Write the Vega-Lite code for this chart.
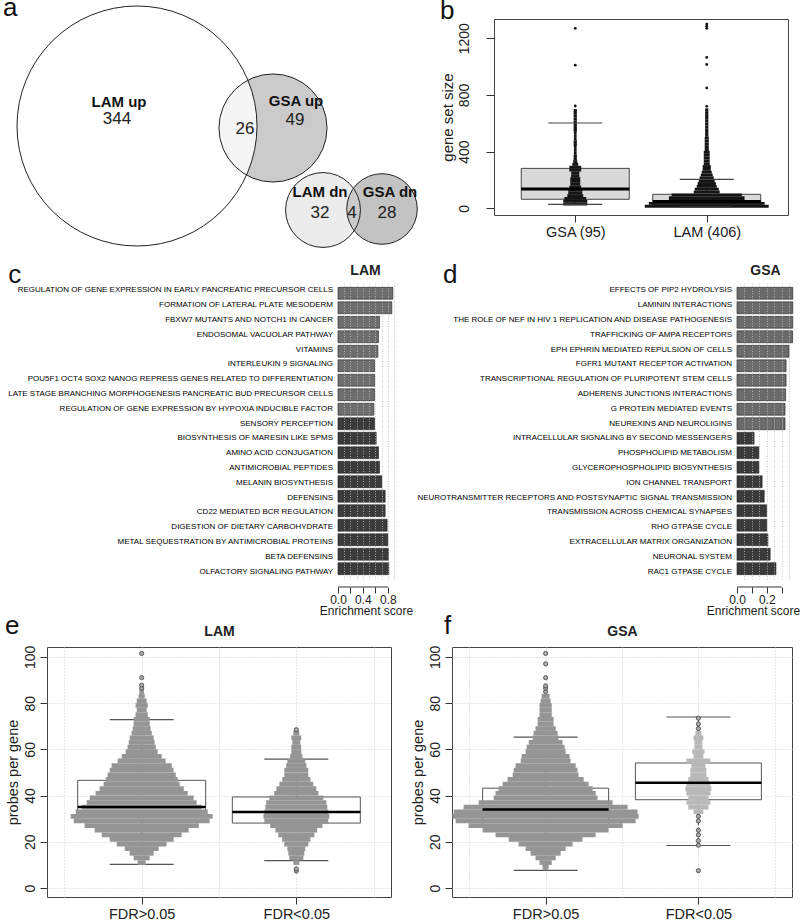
{
"$schema":"https://vega.github.io/schema/vega-lite/v6.json",
"padding":{"left":3,"top":-5,"right":0,"bottom":0},
"background":"white",
"config":{"font":"Liberation Sans","view":{"stroke":null},
 "axis":{"labelColor":"#222","titleColor":"#222","tickColor":"#333","domainColor":"#333","titleFontWeight":"normal"},
 "title":{"color":"#111","fontWeight":"normal"}},
"resolve":{"scale":{"size":"independent","color":"independent","opacity":"independent"}},
"datasets":{
"venn":[{"set":"GSA up","n":75,"cx":273,"cy":128},{"set":"LAM up","n":370,"cx":137,"cy":126},{"set":"GSA dn","n":32,"cx":382,"cy":209},{"set":"LAM dn","n":36,"cx":323,"cy":210}],
"venn_names":[{"t":"LAM up","x":119,"y":102},{"t":"GSA up","x":296,"y":101},{"t":"LAM dn","x":320,"y":192},{"t":"GSA dn","x":390,"y":192}],
"venn_counts":[{"t":"344","x":117,"y":119},{"t":"49","x":295,"y":120},{"t":"26","x":245,"y":129},{"t":"32","x":320,"y":213},{"t":"4","x":352,"y":213},{"t":"28","x":387,"y":213}],
"b_box":[{"g":1,"lo":28,"q1":64,"med":136,"q3":282,"hi":602},{"g":2,"lo":8,"q1":26,"med":48,"q3":99,"hi":205}],
"b_swarm":[
{"g":1,"ym":30,"n":8.9},{"g":1,"ym":50,"n":8.9},{"g":1,"ym":70,"n":8.1},{"g":1,"ym":90,"n":5.9},{"g":1,"ym":110,"n":5.2},{"g":1,"ym":130,"n":5.2},{"g":1,"ym":150,"n":4.4},{"g":1,"ym":170,"n":3.7},{"g":1,"ym":190,"n":3.7},{"g":1,"ym":210,"n":3.7},{"g":1,"ym":230,"n":3},{"g":1,"ym":250,"n":3},{"g":1,"ym":270,"n":4.4},{"g":1,"ym":290,"n":4.4},{"g":1,"ym":310,"n":2.2},{"g":1,"ym":330,"n":1.5},{"g":1,"ym":350,"n":1.2},{"g":1,"ym":370,"n":1.2},{"g":1,"ym":390,"n":1},{"g":1,"ym":410,"n":1},{"g":1,"ym":430,"n":1},{"g":1,"ym":450,"n":1.2},{"g":1,"ym":470,"n":1.2},{"g":1,"ym":490,"n":1},{"g":1,"ym":510,"n":1},{"g":1,"ym":530,"n":1},{"g":1,"ym":550,"n":1.2},{"g":1,"ym":570,"n":1.2},{"g":1,"ym":590,"n":1.2},{"g":1,"ym":610,"n":1.2},{"g":1,"ym":630,"n":1.2},{"g":1,"ym":650,"n":1.2},{"g":1,"ym":670,"n":1.2},{"g":1,"ym":690,"n":1.2},
{"g":2,"ym":15,"n":45.9},{"g":2,"ym":35,"n":42.9},{"g":2,"ym":55,"n":28},{"g":2,"ym":75,"n":28},{"g":2,"ym":95,"n":26},{"g":2,"ym":115,"n":9.6},{"g":2,"ym":135,"n":8.9},{"g":2,"ym":155,"n":7.4},{"g":2,"ym":175,"n":6.7},{"g":2,"ym":195,"n":5.9},{"g":2,"ym":215,"n":5.2},{"g":2,"ym":235,"n":4.4},{"g":2,"ym":255,"n":3.7},{"g":2,"ym":275,"n":3},{"g":2,"ym":295,"n":3},{"g":2,"ym":315,"n":2.2},{"g":2,"ym":335,"n":2.2},{"g":2,"ym":355,"n":2.2},{"g":2,"ym":375,"n":2.2},{"g":2,"ym":395,"n":2.2},{"g":2,"ym":415,"n":1.5},{"g":2,"ym":435,"n":1.5},{"g":2,"ym":455,"n":1.5},{"g":2,"ym":475,"n":1.5},{"g":2,"ym":495,"n":1.5},{"g":2,"ym":515,"n":1.2},{"g":2,"ym":535,"n":1.2},{"g":2,"ym":555,"n":1.2},{"g":2,"ym":575,"n":1.2},{"g":2,"ym":595,"n":1.2},{"g":2,"ym":615,"n":1.2},{"g":2,"ym":635,"n":1.2},{"g":2,"ym":655,"n":1.2},{"g":2,"ym":675,"n":1.2},{"g":2,"ym":695,"n":1.2}],
"b_pts":[{"g":1,"v":722},{"g":1,"v":1010},{"g":1,"v":1270},{"g":2,"v":720},{"g":2,"v":850},{"g":2,"v":1015},{"g":2,"v":1065},{"g":2,"v":1270},{"g":2,"v":1285},{"g":2,"v":1300}],
"c_bars":[
{"term":"REGULATION OF GENE EXPRESSION IN EARLY PANCREATIC PRECURSOR CELLS","es":0.88,"dir":"down"},
{"term":"FORMATION OF LATERAL PLATE MESODERM","es":0.864,"dir":"down"},
{"term":"FBXW7 MUTANTS AND NOTCH1 IN CANCER","es":0.667,"dir":"down"},
{"term":"ENDOSOMAL VACUOLAR PATHWAY","es":0.65,"dir":"down"},
{"term":"VITAMINS","es":0.64,"dir":"down"},
{"term":"INTERLEUKIN 9 SIGNALING","es":0.587,"dir":"down"},
{"term":"POU5F1 OCT4 SOX2 NANOG REPRESS GENES RELATED TO DIFFERENTIATION","es":0.587,"dir":"down"},
{"term":"LATE STAGE BRANCHING MORPHOGENESIS PANCREATIC BUD PRECURSOR CELLS","es":0.587,"dir":"down"},
{"term":"REGULATION OF GENE EXPRESSION BY HYPOXIA INDUCIBLE FACTOR","es":0.576,"dir":"down"},
{"term":"SENSORY PERCEPTION","es":0.587,"dir":"up"},
{"term":"BIOSYNTHESIS OF MARESIN LIKE SPMS","es":0.613,"dir":"up"},
{"term":"AMINO ACID CONJUGATION","es":0.65,"dir":"up"},
{"term":"ANTIMICROBIAL PEPTIDES","es":0.667,"dir":"up"},
{"term":"MELANIN BIOSYNTHESIS","es":0.704,"dir":"up"},
{"term":"DEFENSINS","es":0.757,"dir":"up"},
{"term":"CD22 MEDIATED BCR REGULATION","es":0.757,"dir":"up"},
{"term":"DIGESTION OF DIETARY CARBOHYDRATE","es":0.789,"dir":"up"},
{"term":"METAL SEQUESTRATION BY ANTIMICROBIAL PROTEINS","es":0.8,"dir":"up"},
{"term":"BETA DEFENSINS","es":0.81,"dir":"up"},
{"term":"OLFACTORY SIGNALING PATHWAY","es":0.816,"dir":"up"}],
"d_bars":[
{"term":"EFFECTS OF PIP2 HYDROLYSIS","es":0.375,"dir":"down"},
{"term":"LAMININ INTERACTIONS","es":0.375,"dir":"down"},
{"term":"THE ROLE OF NEF IN HIV 1 REPLICATION AND DISEASE PATHOGENESIS","es":0.375,"dir":"down"},
{"term":"TRAFFICKING OF AMPA RECEPTORS","es":0.374,"dir":"down"},
{"term":"EPH EPHRIN MEDIATED REPULSION OF CELLS","es":0.35,"dir":"down"},
{"term":"FGFR1 MUTANT RECEPTOR ACTIVATION","es":0.33,"dir":"down"},
{"term":"TRANSCRIPTIONAL REGULATION OF PLURIPOTENT STEM CELLS","es":0.33,"dir":"down"},
{"term":"ADHERENS JUNCTIONS INTERACTIONS","es":0.327,"dir":"down"},
{"term":"G PROTEIN MEDIATED EVENTS","es":0.323,"dir":"down"},
{"term":"NEUREXINS AND NEUROLIGINS","es":0.323,"dir":"down"},
{"term":"INTRACELLULAR SIGNALING BY SECOND MESSENGERS","es":0.115,"dir":"up"},
{"term":"PHOSPHOLIPID METABOLISM","es":0.147,"dir":"up"},
{"term":"GLYCEROPHOSPHOLIPID BIOSYNTHESIS","es":0.147,"dir":"up"},
{"term":"ION CHANNEL TRANSPORT","es":0.169,"dir":"up"},
{"term":"NEUROTRANSMITTER RECEPTORS AND POSTSYNAPTIC SIGNAL TRANSMISSION","es":0.183,"dir":"up"},
{"term":"TRANSMISSION ACROSS CHEMICAL SYNAPSES","es":0.199,"dir":"up"},
{"term":"RHO GTPASE CYCLE","es":0.2,"dir":"up"},
{"term":"EXTRACELLULAR MATRIX ORGANIZATION","es":0.208,"dir":"up"},
{"term":"NEURONAL SYSTEM","es":0.223,"dir":"up"},
{"term":"RAC1 GTPASE CYCLE","es":0.262,"dir":"up"}],
"e_box":[{"g":1,"lo":10.2,"q1":29.3,"med":35.1,"q3":46.6,"hi":72.9},{"g":2,"lo":11.8,"q1":28.1,"med":32.9,"q3":39.4,"hi":55.8}],
"e_swarm":[
{"g":1,"ym":11,"n":1.7},{"g":1,"ym":13,"n":3.4},{"g":1,"ym":15,"n":5.1},{"g":1,"ym":17,"n":7.2},{"g":1,"ym":19,"n":10.6},{"g":1,"ym":21,"n":13.6},{"g":1,"ym":23,"n":17},{"g":1,"ym":25,"n":20},{"g":1,"ym":27,"n":24.3},{"g":1,"ym":29,"n":28.9},{"g":1,"ym":31,"n":30.2},{"g":1,"ym":33,"n":28.1},{"g":1,"ym":35,"n":25.5},{"g":1,"ym":37,"n":23.4},{"g":1,"ym":39,"n":22.1},{"g":1,"ym":41,"n":19.6},{"g":1,"ym":43,"n":17.9},{"g":1,"ym":45,"n":16.2},{"g":1,"ym":47,"n":15.3},{"g":1,"ym":49,"n":14.5},{"g":1,"ym":51,"n":13.6},{"g":1,"ym":53,"n":12.8},{"g":1,"ym":55,"n":10.2},{"g":1,"ym":57,"n":8.5},{"g":1,"ym":59,"n":6.8},{"g":1,"ym":61,"n":6},{"g":1,"ym":63,"n":5.5},{"g":1,"ym":65,"n":5.1},{"g":1,"ym":67,"n":4.3},{"g":1,"ym":69,"n":3.8},{"g":1,"ym":71,"n":3.4},{"g":1,"ym":73,"n":3.4},{"g":1,"ym":75,"n":2.6},{"g":1,"ym":77,"n":2.1},{"g":1,"ym":79,"n":2.6},{"g":1,"ym":81,"n":2.1},{"g":1,"ym":83,"n":1.3},{"g":1,"ym":85,"n":1},
{"g":2,"ym":11,"n":1.3},{"g":2,"ym":13,"n":3},{"g":2,"ym":15,"n":3.4},{"g":2,"ym":17,"n":3.8},{"g":2,"ym":19,"n":5.1},{"g":2,"ym":21,"n":6},{"g":2,"ym":23,"n":7.7},{"g":2,"ym":25,"n":8.9},{"g":2,"ym":27,"n":11.1},{"g":2,"ym":29,"n":13.6},{"g":2,"ym":31,"n":14},{"g":2,"ym":33,"n":13.6},{"g":2,"ym":35,"n":13.2},{"g":2,"ym":37,"n":12.8},{"g":2,"ym":39,"n":11.5},{"g":2,"ym":41,"n":9.4},{"g":2,"ym":43,"n":8.5},{"g":2,"ym":45,"n":7.2},{"g":2,"ym":47,"n":6},{"g":2,"ym":49,"n":5.1},{"g":2,"ym":51,"n":5.1},{"g":2,"ym":53,"n":4.3},{"g":2,"ym":55,"n":3.8},{"g":2,"ym":57,"n":2.6},{"g":2,"ym":59,"n":2.1},{"g":2,"ym":61,"n":2.1},{"g":2,"ym":63,"n":1.7},{"g":2,"ym":65,"n":2.1},{"g":2,"ym":67,"n":1.3}],
"e_pts":[{"g":1,"v":86.5},{"g":1,"v":87.8},{"g":1,"v":91},{"g":1,"v":101.5},{"g":2,"v":7.3},{"g":2,"v":8.3},{"g":2,"v":68.5}],
"f_box":[{"g":1,"lo":7.6,"q1":27.5,"med":34,"q3":43.2,"hi":65.3},{"g":2,"lo":18.4,"q1":38.2,"med":45.5,"q3":54.1,"hi":74}],
"f_swarm":[
{"g":1,"ym":9,"n":1.3},{"g":1,"ym":11,"n":2.6},{"g":1,"ym":13,"n":4.3},{"g":1,"ym":15,"n":6.4},{"g":1,"ym":17,"n":8.5},{"g":1,"ym":19,"n":11.5},{"g":1,"ym":21,"n":15.7},{"g":1,"ym":23,"n":21.3},{"g":1,"ym":25,"n":26.8},{"g":1,"ym":27,"n":32.8},{"g":1,"ym":29,"n":38.3},{"g":1,"ym":31,"n":39.6},{"g":1,"ym":33,"n":39.1},{"g":1,"ym":35,"n":34.9},{"g":1,"ym":37,"n":28.5},{"g":1,"ym":39,"n":22.1},{"g":1,"ym":41,"n":21.3},{"g":1,"ym":43,"n":20},{"g":1,"ym":45,"n":18.3},{"g":1,"ym":47,"n":16.2},{"g":1,"ym":49,"n":14},{"g":1,"ym":51,"n":13.6},{"g":1,"ym":53,"n":12.8},{"g":1,"ym":55,"n":10.6},{"g":1,"ym":57,"n":10.2},{"g":1,"ym":59,"n":8.5},{"g":1,"ym":61,"n":8.1},{"g":1,"ym":63,"n":7.2},{"g":1,"ym":65,"n":5.5},{"g":1,"ym":67,"n":5.1},{"g":1,"ym":69,"n":4.3},{"g":1,"ym":71,"n":3.4},{"g":1,"ym":73,"n":3.4},{"g":1,"ym":75,"n":2.6},{"g":1,"ym":77,"n":2.6},{"g":1,"ym":79,"n":2.6},{"g":1,"ym":81,"n":2.1},{"g":1,"ym":83,"n":1.7},
{"g":2,"ym":33,"n":2.1},{"g":2,"ym":35,"n":4.3},{"g":2,"ym":37,"n":5.1},{"g":2,"ym":39,"n":4.3},{"g":2,"ym":41,"n":5.1},{"g":2,"ym":43,"n":5.5},{"g":2,"ym":45,"n":5.1},{"g":2,"ym":47,"n":4.3},{"g":2,"ym":49,"n":3.4},{"g":2,"ym":51,"n":3.4},{"g":2,"ym":53,"n":3},{"g":2,"ym":55,"n":5.1},{"g":2,"ym":57,"n":2.1},{"g":2,"ym":59,"n":2.6},{"g":2,"ym":61,"n":1.7},{"g":2,"ym":63,"n":1.7},{"g":2,"ym":65,"n":2.1},{"g":2,"ym":67,"n":1.3}],
"f_pts":[{"g":1,"v":85},{"g":1,"v":86.5},{"g":1,"v":87.5},{"g":1,"v":91},{"g":1,"v":97},{"g":1,"v":101.5},{"g":2,"v":7.5},{"g":2,"v":18.5},{"g":2,"v":20.5},{"g":2,"v":23},{"g":2,"v":25},{"g":2,"v":29},{"g":2,"v":31},{"g":2,"v":69},{"g":2,"v":71},{"g":2,"v":73.5}]
},
"vconcat":[
{"hconcat":[
 {"width":376,"height":247,
  "title":{"text":"a","anchor":"start","frame":"bounds","fontSize":26,"baseline":"alphabetic","offset":-38,"dx":-12},
  "layer":[
   {"data":{"name":"venn"},"mark":{"type":"point","shape":"circle","filled":true,"strokeWidth":0},
    "encoding":{"x":{"field":"cx","type":"quantitative","scale":{"domain":[47,423],"nice":false,"zero":false},"axis":null},
     "y":{"field":"cy","type":"quantitative","scale":{"domain":[19,266],"reverse":true,"nice":false,"zero":false},"axis":null},
     "size":{"field":"n","type":"quantitative","scale":{"type":"linear","domain":[0,370],"range":[0,57600]},"legend":null},
     "color":{"field":"set","type":"nominal","scale":{"domain":["GSA up","LAM up","GSA dn","LAM dn"],"range":["#cbcbcb","#ffffff","#a0a0a0","#d4d4d4"]},"legend":null},
     "opacity":{"field":"set","type":"nominal","scale":{"domain":["GSA up","LAM up","GSA dn","LAM dn"],"range":[1,0.44,1,0.81]},"legend":null}}},
   {"data":{"name":"venn"},"mark":{"type":"point","shape":"circle","filled":false,"stroke":"#222","strokeWidth":1,"opacity":1},
    "encoding":{"x":{"field":"cx","type":"quantitative"},"y":{"field":"cy","type":"quantitative"},
     "size":{"field":"n","type":"quantitative","legend":null}}},
   {"data":{"name":"venn_names"},"mark":{"type":"text","fontWeight":"bold","fontSize":15,"color":"#111"},
    "encoding":{"x":{"field":"x","type":"quantitative"},"y":{"field":"y","type":"quantitative"},"text":{"field":"t"}}},
   {"data":{"name":"venn_counts"},"mark":{"type":"text","fontSize":17,"color":"#222"},
    "encoding":{"x":{"field":"x","type":"quantitative"},"y":{"field":"y","type":"quantitative"},"text":{"field":"t"}}}
  ]},
 {"width":294,"height":196,"view":{"stroke":"#444","strokeWidth":1},
  "title":{"text":"b","anchor":"start","frame":"bounds","fontSize":26,"baseline":"alphabetic","offset":-26},
  "layer":[
   {"data":{"name":"b_box"},"mark":{"type":"rule","strokeDash":[3,2],"color":"#444"},
    "encoding":{"x":{"field":"g","type":"quantitative","scale":{"domain":[0.42,2.58],"nice":false,"zero":false},
       "axis":{"values":[1,2],"labelExpr":"datum.value == 1 ? 'GSA (95)' : 'LAM (406)'","title":null,"tickSize":7,"labelFontSize":14.5,"labelPadding":3,"domain":false,"grid":false}},
     "y":{"field":"lo","type":"quantitative","scale":{"domain":[-47,1336],"nice":false,"zero":false},
       "axis":{"values":[0,400,800,1200],"format":"d","title":"gene set size","titleFontSize":15,"labelFontSize":14,"labelAngle":-90,"labelAlign":"center","labelBaseline":"bottom","tickSize":8,"labelPadding":15,"titlePadding":2,"domain":false,"grid":false}},
     "y2":{"field":"hi"}}},
   {"data":{"name":"b_box"},"mark":{"type":"bar","orient":"vertical","size":108,"fill":"#d9d9d9","stroke":"#444","strokeWidth":1},
    "encoding":{"x":{"field":"g","type":"quantitative"},"y":{"field":"q1","type":"quantitative"},"y2":{"field":"q3"}}},
   {"data":{"name":"b_swarm"},"mark":{"type":"tick","orient":"horizontal","thickness":2.9,"color":"#151515","opacity":1},
    "encoding":{"x":{"field":"g","type":"quantitative"},"y":{"field":"ym","type":"quantitative"},
     "size":{"field":"n","type":"quantitative","scale":{"domain":[0,10],"range":[0,27]},"legend":null}}},
   {"data":{"name":"b_pts"},"mark":{"type":"point","shape":"circle","filled":true,"size":8,"color":"#151515","opacity":1},
    "encoding":{"x":{"field":"g","type":"quantitative"},"y":{"field":"v","type":"quantitative"}}},
   {"data":{"name":"b_box"},"mark":{"type":"rule","color":"#444","strokeWidth":1.2,"xOffset":-27,"x2Offset":27},
    "encoding":{"x":{"field":"g","type":"quantitative"},"x2":{"field":"g"},"y":{"field":"lo","type":"quantitative"}}},
   {"data":{"name":"b_box"},"mark":{"type":"rule","color":"#444","strokeWidth":1.2,"xOffset":-27,"x2Offset":27},
    "encoding":{"x":{"field":"g","type":"quantitative"},"x2":{"field":"g"},"y":{"field":"hi","type":"quantitative"}}},
   {"data":{"name":"b_box"},"mark":{"type":"rule","color":"#000","strokeWidth":3,"xOffset":-54,"x2Offset":54},
    "encoding":{"x":{"field":"g","type":"quantitative"},"x2":{"field":"g"},"y":{"field":"med","type":"quantitative"}}}
  ]}
],"spacing":71,"bounds":"flush","resolve":{"scale":{"size":"independent","color":"independent","opacity":"independent"}}},
{"hconcat":[
 {"width":348,"height":296,
  "title":{"text":"c","anchor":"start","frame":"bounds","fontSize":26,"baseline":"alphabetic","offset":-46},
  "data":{"name":"c_bars"},
  "resolve":{"scale":{"y":"independent"},"axis":{"y":"independent"}},
  "layer":[
   {"mark":{"type":"bar","stroke":"#222","strokeWidth":0.6},
    "encoding":{
     "y":{"field":"term","type":"nominal","sort":null,"scale":{"paddingInner":0.18,"paddingOuter":0.3},"axis":null},
     "x":{"field":"es","type":"quantitative","scale":{"domain":[-4.671,0.915],"nice":false,"zero":false},"axis":{"orient":"bottom","values":[0,0.2,0.4,0.6,0.8],"format":".1f","labelExpr":"datum.value == 0.2 || datum.value == 0.6 ? '' : datum.label","labelOverlap":false,"title":"Enrichment score","titleX":319,"titleAlign":"center","domain":false,"grid":false,"offset":8,"tickSize":6,"labelFontSize":12,"titleFontSize":12,"titlePadding":0,"labelPadding":1}},
     "color":{"field":"dir","type":"nominal","scale":{"domain":["down","up"],"range":["#6e6e6e","#3b3b3b"]},"legend":null}}},
   {"mark":{"type":"text","align":"right","baseline":"middle","fontSize":8,"color":"#000"},
    "encoding":{"y":{"field":"term","type":"nominal","sort":null,"axis":null},"x":{"datum":-0.08,"type":"quantitative","axis":null},"text":{"field":"term"}}},
   {"mark":{"type":"rule","opacity":0},
    "encoding":{"x":{"field":"es","type":"quantitative","axis":{"orient":"top","values":[0.1,0.2,0.3,0.4,0.5,0.6,0.7,0.8,0.9],"grid":true,"gridDash":[1,1.5],"gridColor":"#bdbdbd","gridWidth":0.8,"labels":false,"ticks":false,"domain":false,"title":"LAM","titleX":318,"titleAlign":"center","titleFontSize":14,"titleFontWeight":"bold","titlePadding":6,"zindex":1}}}},
   {"data":{"values":[{}]},"mark":{"type":"rule","color":"#333","strokeWidth":1},
    "encoding":{"x":{"datum":0,"type":"quantitative","axis":null},"x2":{"datum":0.8},"y":{"datum":-0.027,"type":"quantitative","scale":{"domain":[0,1]},"axis":null}}}
  ]},
 {"width":386,"height":296,
  "title":{"text":"d","anchor":"start","frame":"bounds","fontSize":26,"baseline":"alphabetic","offset":-46,"dx":34},
  "data":{"name":"d_bars"},
  "resolve":{"scale":{"y":"independent"},"axis":{"y":"independent"}},
  "layer":[
   {"mark":{"type":"bar","stroke":"#222","strokeWidth":0.6},
    "encoding":{
     "y":{"field":"term","type":"nominal","sort":null,"scale":{"paddingInner":0.18,"paddingOuter":0.3},"axis":null},
     "x":{"field":"es","type":"quantitative","scale":{"domain":[-2.2055,0.39],"nice":false,"zero":false},"axis":{"orient":"bottom","values":[0,0.1,0.2,0.3],"format":".1f","labelExpr":"datum.value == 0.1 || datum.value == 0.3 ? '' : datum.label","labelOverlap":false,"title":"Enrichment score","titleX":344,"titleAlign":"center","domain":false,"grid":false,"offset":8,"tickSize":6,"labelFontSize":12,"titleFontSize":12,"titlePadding":0,"labelPadding":1}},
     "color":{"field":"dir","type":"nominal","scale":{"domain":["down","up"],"range":["#6b6b6b","#3a3a3a"]},"legend":null}}},
   {"mark":{"type":"text","align":"right","baseline":"middle","fontSize":8,"color":"#000"},
    "encoding":{"y":{"field":"term","type":"nominal","sort":null,"axis":null},"x":{"datum":-0.0336,"type":"quantitative","axis":null},"text":{"field":"term"}}},
   {"mark":{"type":"rule","opacity":0},
    "encoding":{"x":{"field":"es","type":"quantitative","axis":{"orient":"top","values":[0.05,0.1,0.15,0.2,0.25,0.3,0.35],"grid":true,"gridDash":[1,1.5],"gridColor":"#bdbdbd","gridWidth":0.8,"labels":false,"ticks":false,"domain":false,"title":"GSA","titleX":356,"titleAlign":"center","titleFontSize":14,"titleFontWeight":"bold","titlePadding":6,"zindex":1}}}},
   {"data":{"values":[{}]},"mark":{"type":"rule","color":"#333","strokeWidth":1},
    "encoding":{"x":{"datum":0,"type":"quantitative","axis":null},"x2":{"datum":0.3},"y":{"datum":-0.027,"type":"quantitative","scale":{"domain":[0,1]},"axis":null}}}
  ]}
],"spacing":14,"bounds":"flush","resolve":{"scale":{"size":"independent","color":"independent","opacity":"independent"}}},
{"hconcat":[
 {"width":344,"height":250,"view":{"stroke":"#444","strokeWidth":1},
  "title":{"text":"e","anchor":"start","frame":"bounds","fontSize":26,"baseline":"alphabetic","offset":-36},
  "layer":[
   {"data":{"name":"e_box"},"mark":{"type":"rule","strokeDash":[3,2],"color":"#555"},
    "encoding":{"x":{"field":"g","type":"quantitative","scale":{"domain":[0.42,2.58],"nice":false,"zero":false},
       "axis":{"orient":"bottom","values":[1,2],"labelExpr":"datum.value == 1 ? 'FDR>0.05' : 'FDR<0.05'","title":null,"tickSize":7,"labelFontSize":14.5,"labelPadding":3,"domain":false,"grid":false}},
     "y":{"field":"lo","type":"quantitative","scale":{"domain":[-3.9,104.3],"nice":false,"zero":false},
       "axis":{"values":[0,20,40,60,80,100],"title":"probes per gene","titleFontSize":14.5,"labelFontSize":14,"labelAngle":-90,"labelAlign":"center","labelBaseline":"bottom","tickSize":7,"labelPadding":3,"titlePadding":3,"domain":false,"grid":true,"gridDash":[1,2],"gridColor":"#cfcfcf"}},
     "y2":{"field":"q1"}}},
   {"data":{"name":"e_box"},"mark":{"type":"rule","strokeDash":[3,2],"color":"#555"},
    "encoding":{"x":{"field":"g","type":"quantitative","axis":null},"y":{"field":"q3","type":"quantitative"},"y2":{"field":"hi"}}},
   {"data":{"name":"e_box"},"mark":{"type":"bar","orient":"vertical","size":128,"fillOpacity":0,"stroke":"#555","strokeWidth":1},
    "encoding":{"x":{"field":"g","type":"quantitative","axis":null},"y":{"field":"q1","type":"quantitative"},"y2":{"field":"q3"}}},
   {"data":{"name":"e_box"},"mark":{"type":"rule","color":"#555","strokeWidth":1.2,"xOffset":-32,"x2Offset":32},
    "encoding":{"x":{"field":"g","type":"quantitative","axis":null},"x2":{"field":"g"},"y":{"field":"lo","type":"quantitative"}}},
   {"data":{"name":"e_box"},"mark":{"type":"rule","color":"#555","strokeWidth":1.2,"xOffset":-32,"x2Offset":32},
    "encoding":{"x":{"field":"g","type":"quantitative","axis":null},"x2":{"field":"g"},"y":{"field":"hi","type":"quantitative"}}},
   {"data":{"name":"e_swarm"},"mark":{"type":"tick","orient":"horizontal","thickness":4.7,"color":"#959595","opacity":1},
    "encoding":{"x":{"field":"g","type":"quantitative","axis":null},"y":{"field":"ym","type":"quantitative"},
     "size":{"field":"n","type":"quantitative","scale":{"domain":[0,10],"range":[0,47]},"legend":null}}},
   {"data":{"name":"e_pts"},"mark":{"type":"point","shape":"circle","filled":true,"size":18,"fill":"#a8a8a8","stroke":"#333","strokeWidth":0.7,"opacity":1},
    "encoding":{"x":{"field":"g","type":"quantitative","axis":null},"y":{"field":"v","type":"quantitative"}}},
   {"data":{"name":"e_box"},"mark":{"type":"rule","color":"#000","strokeWidth":2.5,"xOffset":-64,"x2Offset":64},
    "encoding":{"x":{"field":"g","type":"quantitative","axis":{"orient":"top","values":[0.5,1,1.5,2,2.5],"grid":true,"gridDash":[1,2],"gridColor":"#cfcfcf","labels":false,"ticks":false,"domain":false,"title":"LAM","titleFontSize":14,"titleFontWeight":"bold","titlePadding":9}},"x2":{"field":"g"},"y":{"field":"med","type":"quantitative"}}}
  ]},
 {"width":340,"height":250,"view":{"stroke":"#444","strokeWidth":1},
  "title":{"text":"f","anchor":"start","frame":"bounds","fontSize":26,"baseline":"alphabetic","offset":-36,"dx":34},
  "layer":[
   {"data":{"name":"f_box"},"mark":{"type":"rule","strokeDash":[3,2],"color":"#555"},
    "encoding":{"x":{"field":"g","type":"quantitative","scale":{"domain":[0.42,2.58],"nice":false,"zero":false},
       "axis":{"orient":"bottom","values":[1,2],"labelExpr":"datum.value == 1 ? 'FDR>0.05' : 'FDR<0.05'","title":null,"tickSize":7,"labelFontSize":14.5,"labelPadding":3,"domain":false,"grid":false}},
     "y":{"field":"lo","type":"quantitative","scale":{"domain":[-3.9,104.3],"nice":false,"zero":false},
       "axis":{"values":[0,20,40,60,80,100],"title":"probes per gene","titleFontSize":14.5,"labelFontSize":14,"labelAngle":-90,"labelAlign":"center","labelBaseline":"bottom","tickSize":7,"labelPadding":3,"titlePadding":3,"domain":false,"grid":true,"gridDash":[1,2],"gridColor":"#cfcfcf"}},
     "y2":{"field":"q1"}}},
   {"data":{"name":"f_box"},"mark":{"type":"rule","strokeDash":[3,2],"color":"#555"},
    "encoding":{"x":{"field":"g","type":"quantitative","axis":null},"y":{"field":"q3","type":"quantitative"},"y2":{"field":"hi"}}},
   {"data":{"name":"f_box"},"mark":{"type":"bar","orient":"vertical","size":126,"fillOpacity":0,"stroke":"#555","strokeWidth":1},
    "encoding":{"x":{"field":"g","type":"quantitative","axis":null},"y":{"field":"q1","type":"quantitative"},"y2":{"field":"q3"}}},
   {"data":{"name":"f_box"},"mark":{"type":"rule","color":"#555","strokeWidth":1.2,"xOffset":-32,"x2Offset":32},
    "encoding":{"x":{"field":"g","type":"quantitative","axis":null},"x2":{"field":"g"},"y":{"field":"lo","type":"quantitative"}}},
   {"data":{"name":"f_box"},"mark":{"type":"rule","color":"#555","strokeWidth":1.2,"xOffset":-32,"x2Offset":32},
    "encoding":{"x":{"field":"g","type":"quantitative","axis":null},"x2":{"field":"g"},"y":{"field":"hi","type":"quantitative"}}},
   {"data":{"name":"f_swarm"},"mark":{"type":"tick","orient":"horizontal","thickness":4.7,"opacity":1},
    "encoding":{"x":{"field":"g","type":"quantitative","axis":null},"y":{"field":"ym","type":"quantitative"},
     "size":{"field":"n","type":"quantitative","scale":{"domain":[0,10],"range":[0,47]},"legend":null},
     "color":{"condition":{"test":"datum.g == 2","value":"#b8b8b8"},"value":"#959595"}}},
   {"data":{"name":"f_pts"},"mark":{"type":"point","shape":"circle","filled":true,"size":18,"fill":"#a8a8a8","stroke":"#333","strokeWidth":0.7,"opacity":1},
    "encoding":{"x":{"field":"g","type":"quantitative","axis":null},"y":{"field":"v","type":"quantitative"}}},
   {"data":{"name":"f_box"},"mark":{"type":"rule","color":"#000","strokeWidth":2.5,"xOffset":-63,"x2Offset":63},
    "encoding":{"x":{"field":"g","type":"quantitative","axis":{"orient":"top","values":[0.5,1,1.5,2,2.5],"grid":true,"gridDash":[1,2],"gridColor":"#cfcfcf","labels":false,"ticks":false,"domain":false,"title":"GSA","titleFontSize":14,"titleFontWeight":"bold","titlePadding":9}},"x2":{"field":"g"},"y":{"field":"med","type":"quantitative"}}}
  ]}
],"spacing":17,"resolve":{"scale":{"size":"independent","color":"independent","opacity":"independent"}}}
],
"spacing":-4
}
